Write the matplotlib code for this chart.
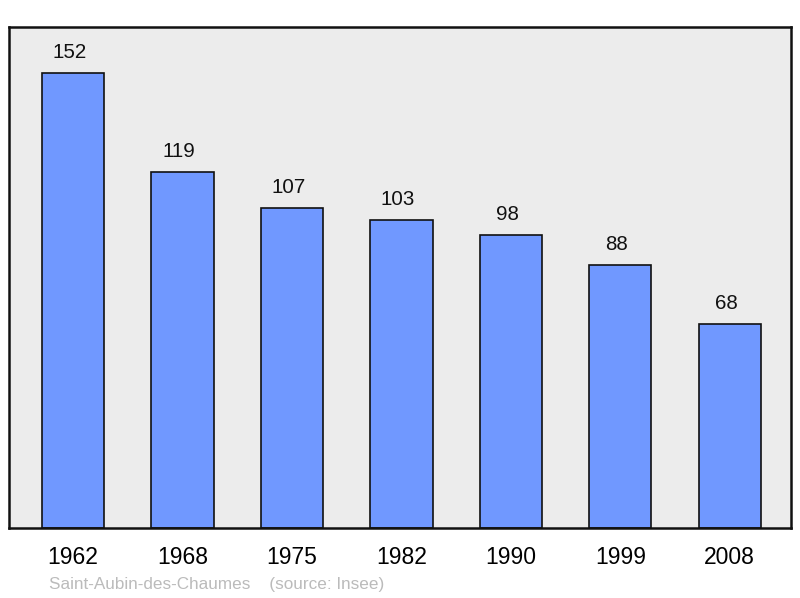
import numpy as np
import matplotlib
matplotlib.use('Agg')
import matplotlib.pyplot as plt

years = ['1962', '1968', '1975', '1982', '1990', '1999', '2008']
population = [152, 119, 107, 103, 98, 88, 68]
town = 'Saint-Aubin-des-Chaumes'
source = '(source: Insee)'

plt.rcParams['font.family'] = ['Liberation Sans', 'DejaVu Sans']

fig = plt.figure(figsize=(8, 5.98), dpi=100)
ax = fig.add_axes([9 / 800, 70 / 598, 782 / 800, 501 / 598])
ax.set_facecolor('#ececec')

x = np.arange(len(years))
ax.bar(x, population, width=0.57, color='#7098ff', edgecolor='#111111', linewidth=1.2, zorder=2)

# value labels sit a little left of the bar centre, as in the source image
for xi, v in zip(x, population):
	ax.annotate(str(v), (xi, v), xytext=(-2.5, 14.8), textcoords='offset points',
				ha='center', va='center', fontsize=14.8, color='#111111')

ax.set_xlim(-0.585, 6.56)
ax.set_ylim(0, 167.4)
ax.set_xticks(x)
ax.set_xticklabels(years, fontsize=16.5)
ax.tick_params(axis='x', length=0, pad=13)
ax.set_yticks([])
for sp in ax.spines.values():
	sp.set_linewidth(1.8)
	sp.set_color('#111111')

fig.text(49 / 800, 1 - 584 / 598, town + '    ' + source, fontsize=12.3,
		 color='#bbbbbb', va='center', ha='left')

fig.savefig('out.png', dpi=100)
